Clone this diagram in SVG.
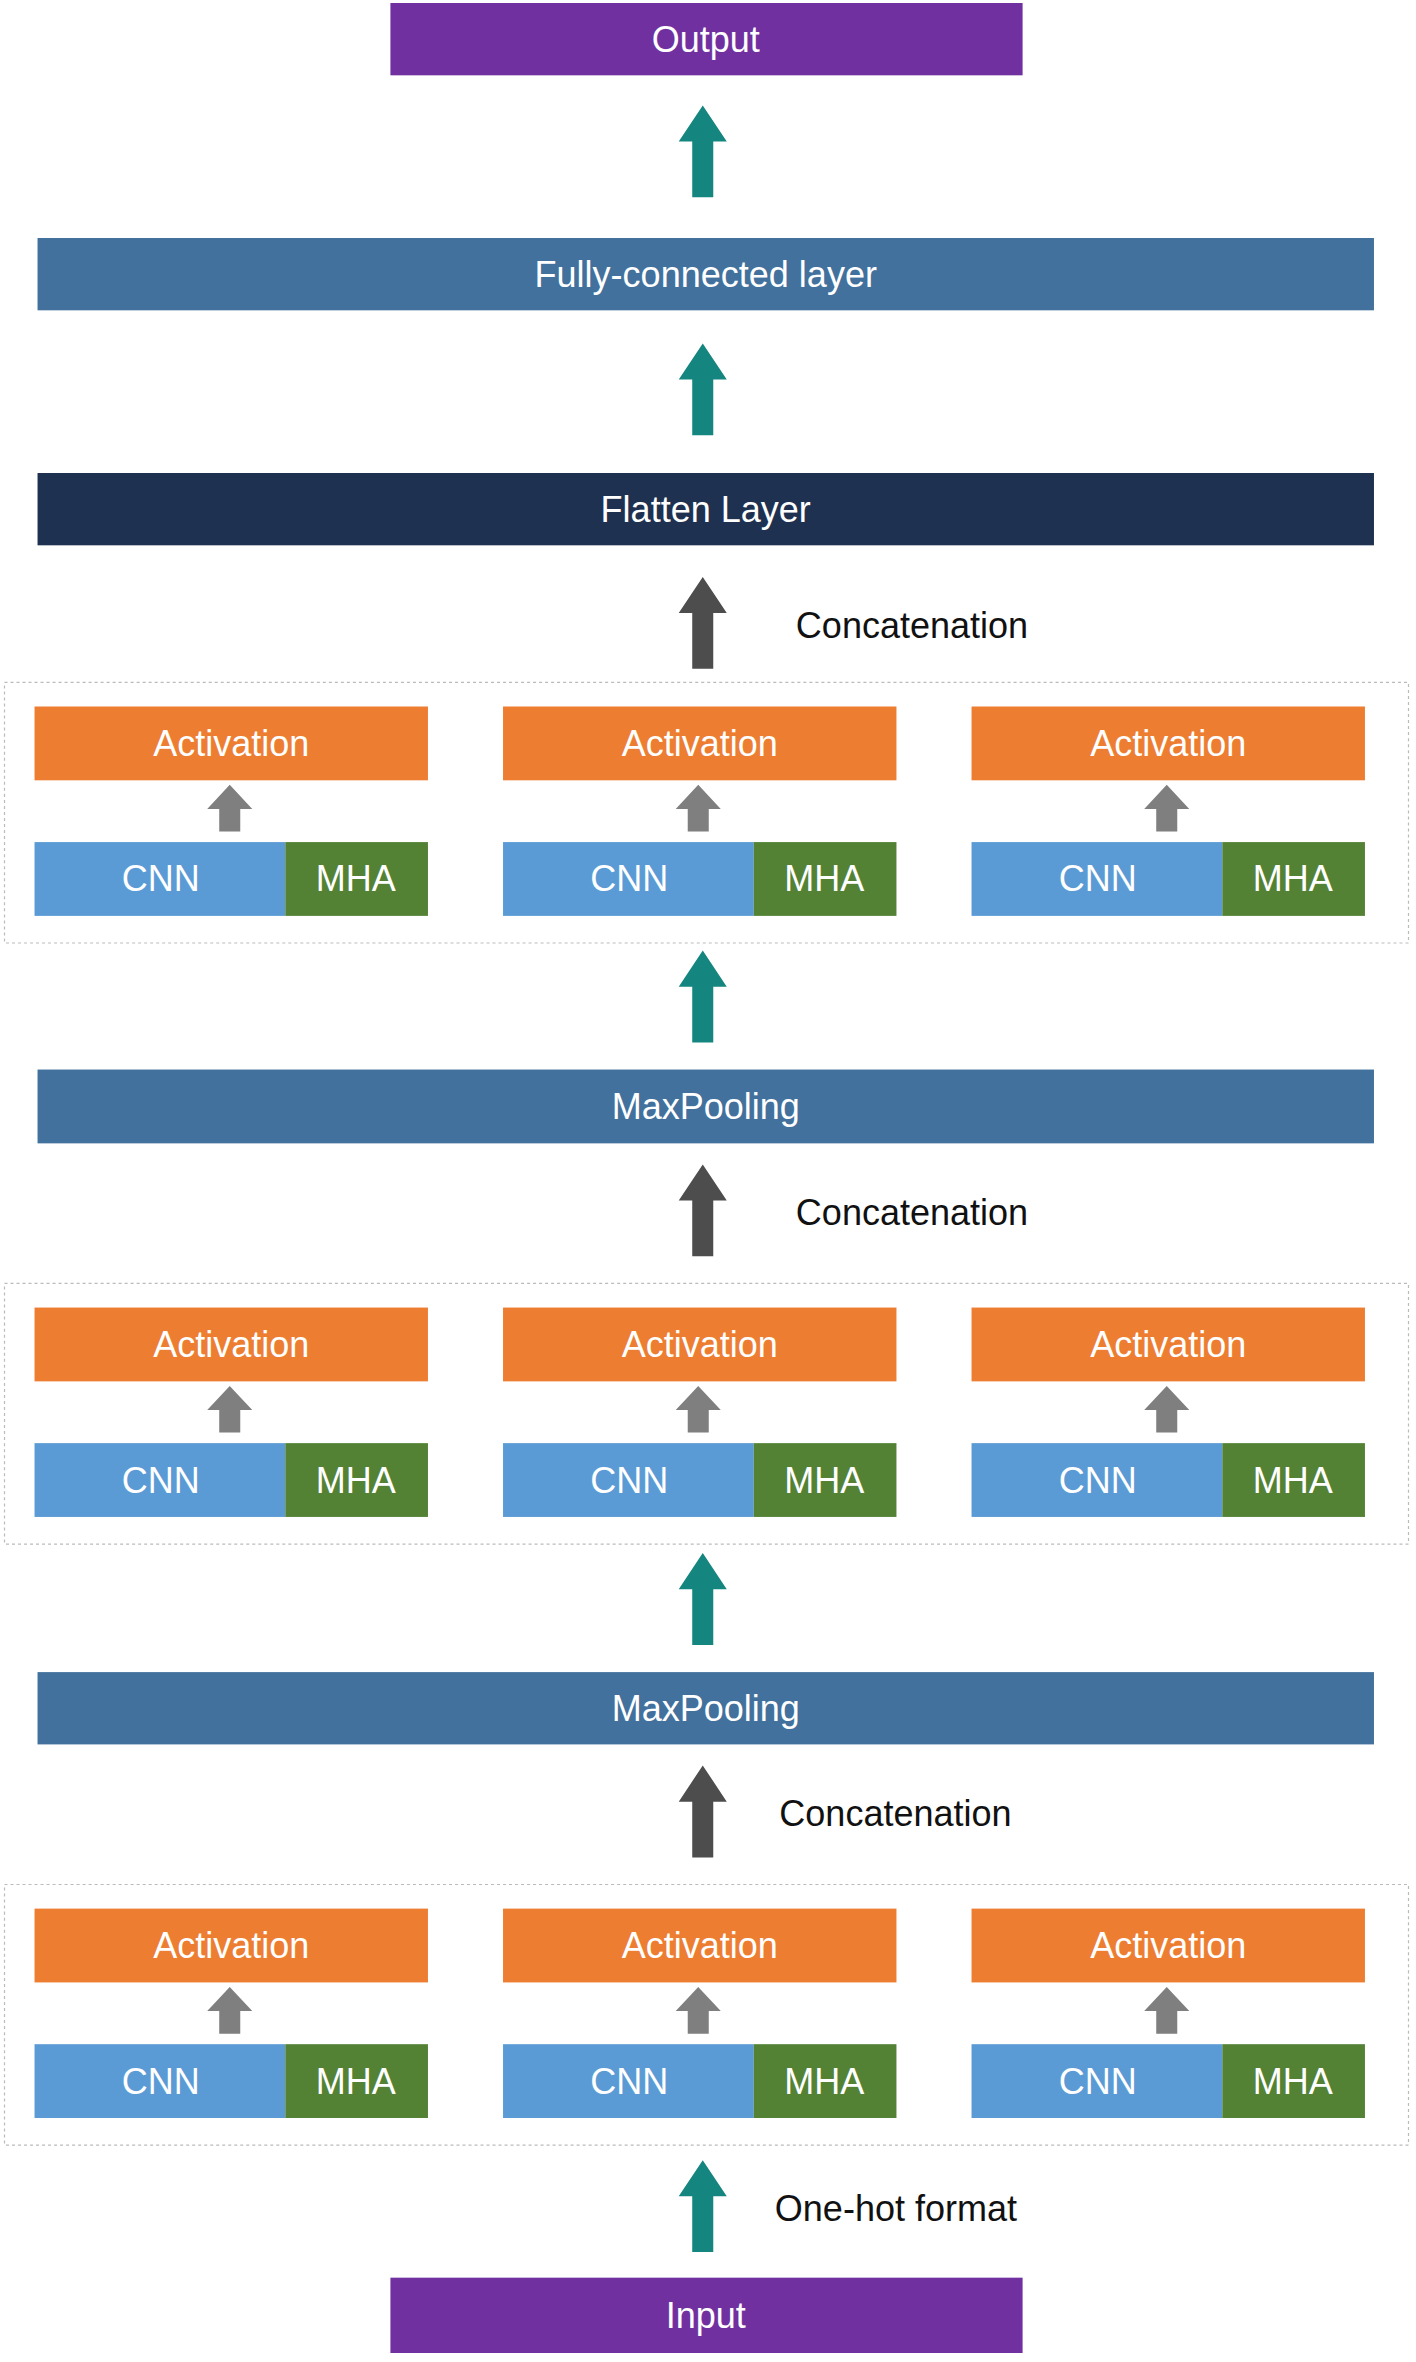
<svg xmlns="http://www.w3.org/2000/svg" width="1416" height="2362" viewBox="0 0 1416 2362">
<style>
text{font-family:"Liberation Sans",Arial,sans-serif;font-size:24px;fill:#fff;text-anchor:middle;dominant-baseline:central}
.lbl{fill:#111;text-anchor:start}
.act{fill:#ED7D31}.cnn{fill:#5B9BD5}.mha{fill:#548235}.bar{fill:#41719C}.io{fill:#7030A0}
.grp{fill:none;stroke:#BBB;stroke-width:0.8;stroke-dasharray:2 2}
</style>
<defs>
<path id="big" d="M0 0 L16 24 L7 24 L7 61 L-7 61 L-7 24 L-16 24 Z"/>
<path id="small" d="M0 0 L15 16 L7 16 L7 31 L-7 31 L-7 16 L-15 16 Z"/>
<g id="unit">
<rect class="act" x="0" y="0" width="262" height="49"/><text x="131" y="24.5">Activation</text>
<use href="#small" x="130" y="52" fill="#7F7F7F"/>
<rect class="cnn" x="0" y="90" width="167" height="49"/><text x="84" y="114.5">CNN</text>
<rect class="mha" x="167" y="90" width="95" height="49"/><text x="214" y="114.5">MHA</text>
</g>
<g id="grp3">
<rect class="grp" x="3" y="0" width="935" height="173"/>
<use href="#unit" x="23" y="16"/><use href="#unit" x="335" y="16"/><use href="#unit" x="647" y="16"/>
</g>
</defs>
<g transform="scale(1.5016,1.5064)">
<g id="output"><rect class="io" x="260" y="2" width="421" height="48"/><text x="470" y="26">Output</text></g>
<g id="fc"><rect class="bar" x="25" y="158" width="890" height="48"/><text x="470" y="182">Fully-connected layer</text></g>
<g id="flatten"><rect fill="#1F3150" x="25" y="314" width="890" height="48"/><text x="470" y="338">Flatten Layer</text></g>
<g id="block3"><use href="#grp3" y="453"/></g>
<g id="maxpool2"><rect class="bar" x="25" y="710" width="890" height="49"/><text x="470" y="734.5">MaxPooling</text></g>
<g id="block2"><use href="#grp3" y="852"/></g>
<g id="maxpool1"><rect class="bar" x="25" y="1110" width="890" height="48"/><text x="470" y="1134">MaxPooling</text></g>
<g id="block1"><use href="#grp3" y="1251"/></g>
<g id="input"><rect class="io" x="260" y="1512" width="421" height="50"/><text x="470" y="1537">Input</text></g>
<g id="connectors">
<use href="#big" x="468" y="70" fill="#14857F"/>
<use href="#big" x="468" y="228" fill="#14857F"/>
<use href="#big" x="468" y="383" fill="#4D4D4D"/>
<use href="#big" x="468" y="631" fill="#14857F"/>
<use href="#big" x="468" y="773" fill="#4D4D4D"/>
<use href="#big" x="468" y="1031" fill="#14857F"/>
<use href="#big" x="468" y="1172" fill="#4D4D4D"/>
<use href="#big" x="468" y="1434" fill="#14857F"/>
<text class="lbl" x="530" y="415">Concatenation</text>
<text class="lbl" x="530" y="805">Concatenation</text>
<text class="lbl" x="519" y="1204">Concatenation</text>
<text class="lbl" x="516" y="1466">One-hot format</text>
</g>
</g>
</svg>
